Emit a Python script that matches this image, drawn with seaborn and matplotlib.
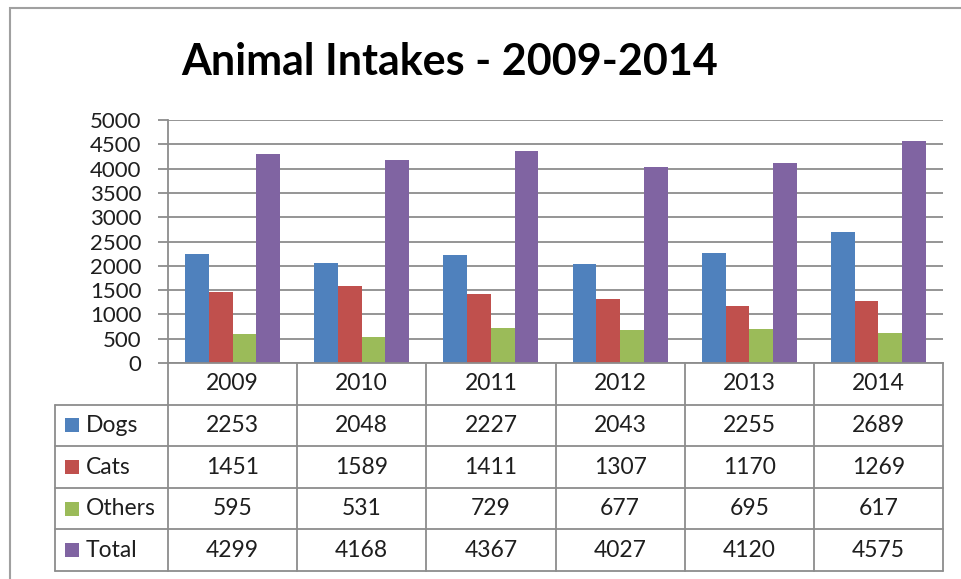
import matplotlib
matplotlib.use("Agg")
import matplotlib.pyplot as plt
import seaborn as sns
import pandas as pd
from matplotlib.patches import Rectangle

years = ["2009", "2010", "2011", "2012", "2013", "2014"]
series = ["Dogs", "Cats", "Others", "Total"]
dogs = [2253, 2048, 2227, 2043, 2255, 2689]
cats = [1451, 1589, 1411, 1307, 1170, 1269]
others = [595, 531, 729, 677, 695, 617]
total = [4299, 4168, 4367, 4027, 4120, 4575]
yticks = [0, 500, 1000, 1500, 2000, 2500, 3000, 3500, 4000, 4500, 5000]
colors = ["#4F81BD", "#C0504D", "#9BBB59", "#8064A2"]
title = "Animal Intakes - 2009-2014"

values = {"Dogs": dogs, "Cats": cats, "Others": others, "Total": total}
rows = []
for s in series:
    for y, v in zip(years, values[s]):
        rows.append({"Year": y, "Series": s, "Value": v})
df = pd.DataFrame(rows)

sns.set_theme(style="white")
plt.rcParams["font.family"] = ["Lato", "DejaVu Sans"]

W, H = 961, 579
fig = plt.figure(figsize=(W / 100, H / 100), dpi=100)
fig.patch.set_facecolor("white")

# outer frame
fig.add_artist(Rectangle((10 / W, -0.1), 1.2, 1 - 8 / H + 0.1, transform=fig.transFigure,
                         fill=False, edgecolor="#A0A0A0", linewidth=1.5))

x0, x1 = 168, 943
yt, yb = 120, 363
ax = fig.add_axes([x0 / W, 1 - yb / H, (x1 - x0) / W, (yb - yt) / H])
sns.barplot(data=df, x="Year", y="Value", hue="Series", hue_order=series, order=years,
            palette=colors, width=0.735, gap=0, saturation=1, ax=ax, legend=False,
            linewidth=0, errorbar=None)
ax.set_xlim(-0.5, 5.5)
ax.set_ylim(0, 5000)
ax.set_yticks(yticks)
ax.set_yticklabels([str(t) for t in yticks], fontsize=16, color="#1E1E1E")
ax.set_xticks([])
ax.set_xlabel("")
ax.set_ylabel("")
ax.yaxis.grid(True, color="#8C8C8C", linewidth=1.3)
ax.set_axisbelow(True)
for s in ["top", "right"]:
    ax.spines[s].set_visible(False)
for s in ["left", "bottom"]:
    ax.spines[s].set_color("#8C8C8C")
    ax.spines[s].set_linewidth(1.3)
ax.tick_params(axis="y", which="major", length=7.2, width=1.3, color="#8C8C8C", pad=12,
               left=True, direction="out")

# data table below the axes
tl = 55
tb = 571
unit = (x1 - x0) / 6.0
left_data = -0.5 - (x0 - tl) / unit
tax = fig.add_axes([tl / W, 1 - tb / H, (x1 - tl) / W, (tb - yb) / H])
tax.set_xlim(left_data, 5.5)
tax.set_ylim(0, 5)
tax.axis("off")
lc = "#8C8C8C"
lw = 1.3
for yy in range(0, 5):
    tax.plot([left_data, 5.5], [yy, yy], color=lc, lw=lw, clip_on=False)
tax.plot([left_data, left_data], [0, 4], color=lc, lw=lw, clip_on=False)
for k in range(7):
    tax.plot([-0.5 + k, -0.5 + k], [0, 5], color=lc, lw=lw, clip_on=False)

tc = "#1E1E1E"
fs = 16.5
for i, y in enumerate(years):
    tax.text(i, 4.5, y, ha="center", va="center", fontsize=fs, color=tc)
for r, s in enumerate(series):
    yc = 3.5 - r
    for i, v in enumerate(values[s]):
        tax.text(i, yc, str(v), ha="center", va="center", fontsize=fs, color=tc)
    # legend key + label
    kx = left_data + 10 / unit
    ks = 14 / unit
    kh = 14 / ((tb - yb) / 5.0)
    tax.add_patch(Rectangle((kx, yc - kh / 2), ks, kh, facecolor=colors[r], edgecolor="none",
                            clip_on=False))
    tax.text(left_data + 31 / unit, yc, s, ha="left", va="center", fontsize=fs, color=tc)

fig.text(450 / W, 1 - 62 / H, title, ha="center", va="center", fontsize=31,
         fontweight="bold", color="black")

fig.savefig("out.png", dpi=100)
